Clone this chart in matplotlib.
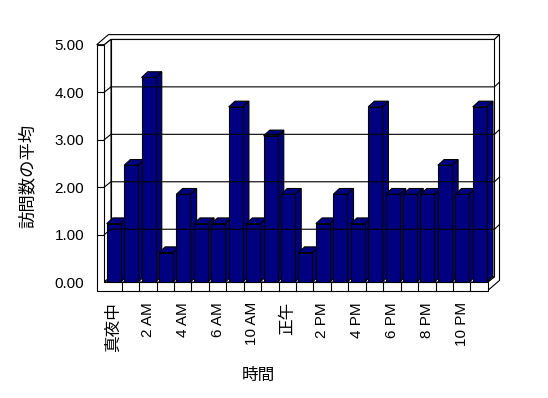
import matplotlib
matplotlib.use("Agg")
import matplotlib.pyplot as plt
from matplotlib.patches import Polygon, Rectangle

# ---- data ----
hours = ["真夜中", "1 AM", "2 AM", "3 AM", "4 AM", "5 AM", "6 AM", "7 AM",
         "10 AM", "11 AM", "正午", "1 PM", "2 PM", "3 PM", "4 PM", "5 PM",
         "6 PM", "7 PM", "8 PM", "9 PM", "10 PM", "11 PM"]
visits = [1.23, 2.46, 4.31, 0.62, 1.85, 1.23, 1.23, 3.69, 1.23, 3.08, 1.85,
          0.62, 1.23, 1.85, 1.23, 3.69, 1.85, 1.85, 1.85, 2.46, 1.85, 3.69]
y_ticks = [0, 1, 2, 3, 4, 5]
y_tick_labels = ["0.00", "1.00", "2.00", "3.00", "4.00", "5.00"]
x_title = "時間"
y_title = "訪問数の平均"

FONTS = ["Liberation Sans", "Noto Sans CJK JP", "DejaVu Sans"]
plt.rcParams["font.family"] = FONTS

W, H = 548, 398
fig = plt.figure(figsize=(W / 100, H / 100), dpi=100)
fig.patch.set_facecolor("white")

n = len(hours)
ax = fig.add_axes([104.3 / W, 116 / H, 383.5 / W, 237.3 / H])
ax.set_xlim(0, n)
ax.set_ylim(0, 5)
for s in ax.spines.values():
    s.set_visible(False)
ax.set_facecolor("none")

# pixel -> data scale
px_x = 383.5 / n
px_y = 237.3 / 5.0


def off(dx_px, dy_px):
    return (dx_px / px_x, dy_px / px_y)


D = {0: (0.0, 0.0), 1: off(6.7, 5.3), 2: off(11.7, 10.1)}
BD = off(6.2, 5.7)
TX = 7.6 / px_x   # left wall thickness
TY = 8.5 / px_y   # floor thickness
YMAX = 5


def P(x, y, d):
    return (x + D[d][0], y + D[d][1])


LW = 0.8
kw = dict(facecolor="white", edgecolor="black", lw=LW, clip_on=False, joinstyle="miter")

# back wall inner face
ax.add_patch(Polygon([P(0, 0, 1), P(n, 0, 1), P(n, YMAX, 1), P(0, YMAX, 1)], **kw))
# top of walls
ax.add_patch(Polygon([P(-TX, YMAX, 0), P(0, YMAX, 0), P(0, YMAX, 1), P(n, YMAX, 1),
                      P(n, YMAX, 2), P(-TX, YMAX, 2)], **kw))
# right side of back wall + floor
ax.add_patch(Polygon([P(n, YMAX, 1), P(n, YMAX, 2), P(n, -TY, 2), P(n, -TY, 0),
                      P(n, 0, 0), P(n, 0, 1)], **kw))
# left wall inner face
ax.add_patch(Polygon([P(0, 0, 0), P(0, YMAX, 0), P(0, YMAX, 1), P(0, 0, 1)], **kw))
# floor top
ax.add_patch(Polygon([P(0, 0, 0), P(n, 0, 0), P(n, 0, 1), P(0, 0, 1)], **kw))

# gridlines
for k in y_ticks[1:-1]:
    a, b, c, e = P(0, k, 0), P(0, k, 1), P(n, k, 1), P(n, k, 2)
    ax.plot([a[0], b[0], c[0], e[0]], [a[1], b[1], c[1], e[1]],
            color="black", lw=LW, clip_on=False, solid_joinstyle="miter")

# bars
NAVY = "#000080"
bl, bw = 0.138, 0.803
for i, v in enumerate(visits):
    x0, x1 = i + bl, i + bl + bw
    bkw = dict(facecolor=NAVY, edgecolor="black", lw=LW, clip_on=False, joinstyle="miter")
    ax.add_patch(Polygon([(x1, 0), (x1, v), (x1 + BD[0], v + BD[1]), (x1 + BD[0], BD[1])], **bkw))
    ax.add_patch(Polygon([(x0, v), (x1, v), (x1 + BD[0], v + BD[1]), (x0 + BD[0], v + BD[1])], **bkw))
    ax.add_patch(Rectangle((x0, 0), bw, v, **bkw))

# front L face (left wall edge + floor edge)
ax.add_patch(Polygon([(-TX, -TY), (n, -TY), (n, 0), (0, 0), (0, YMAX), (-TX, YMAX)], **kw))
for k in y_ticks[1:-1]:
    ax.plot([-TX, 0], [k, k], color="black", lw=LW, clip_on=False)
for i in range(1, n):
    ax.plot([i, i], [-TY, 0], color="black", lw=LW, clip_on=False)

# ticks
ax.set_yticks(y_ticks, y_tick_labels)
ax.tick_params(axis="y", length=0, pad=14.5, labelsize=11)
xt = list(range(0, n, 2))
ax.set_xticks([i + 0.5 for i in xt], [hours[i] for i in xt], rotation=90)
ax.tick_params(axis="x", length=0, pad=14.5, labelsize=11)
for t in ax.get_xticklabels():
    t.set_va("top")
    t.set_ha("center")
    if not t.get_text().isascii():
        t.set_fontsize(12)

fig.text(27.5 / W, 1 - 176 / H, y_title, rotation=90, ha="center", va="center",
         fontsize=12.5, family=["Noto Sans CJK JP"])
fig.text(258 / W, 1 - 375.7 / H, x_title, ha="center", va="center",
         fontsize=12, family=["Noto Sans CJK JP"])

fig.savefig("out.png", dpi=100, facecolor="white")
